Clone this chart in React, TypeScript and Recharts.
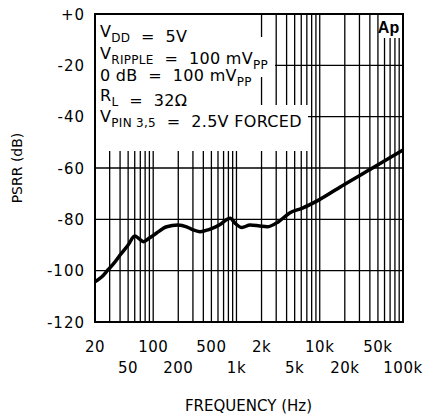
import { LineChart, Line, XAxis, YAxis, CartesianGrid, Customized } from "recharts";

// PSRR vs frequency
const freqHz = [20, 24, 28.6, 34, 40, 50, 60, 68, 76, 90, 110, 145, 198, 252, 300, 364, 430, 502, 650, 770, 840, 966, 1160, 1460, 1900, 2330, 3200, 4400, 6100, 9700, 20000, 42500, 100000];
const psrrDb = [-104.3, -102.5, -99.7, -97, -93.9, -90, -86.5, -87.6, -88.7, -87.3, -85.3, -82.9, -82.2, -82.9, -84.1, -84.8, -84.3, -83.6, -81.8, -80, -79.6, -81.6, -83.2, -82.2, -82.6, -82.9, -80.9, -77.4, -75.7, -72.5, -66.3, -60.1, -53];

const gridFreqs = [20, 30, 40, 50, 60, 70, 80, 90, 100, 200, 300, 400, 500, 600, 700, 800, 900, 1000, 2000, 3000, 4000, 5000, 6000, 7000, 8000, 9000, 10000, 20000, 30000, 40000, 50000, 60000, 70000, 80000, 90000, 100000];
const topRowTicks = [20, 100, 500, 2000, 10000, 50000];
const bottomRowTicks = [50, 200, 1000, 5000, 20000, 100000];
const dbTicks = [-120, -100, -80, -60, -40, -20, 0];

const data = freqHz.map((f, i) => ({ f, db: psrrDb[i] }));

const FONT = "'DejaVu Sans', sans-serif";
const fmtF = (v: number) => (v >= 1000 ? `${v / 1000}k` : `${v}`);
const SP2 = "\u00a0\u00a0";

const FreqTick = (props: any) => {
  const v = props.payload.value;
  let y = 0;
  if (topRowTicks.includes(v)) y = 352;
  else if (bottomRowTicks.includes(v)) y = 373;
  else return null;
  return (
    <text x={props.x} y={y} textAnchor="middle" fontFamily={FONT} fontSize={15} letterSpacing={0.5} fill="#000">
      {fmtF(v)}
    </text>
  );
};

const DbTick = (props: any) => {
  const v = props.payload.value;
  return (
    <text x={85} y={props.y + 5.5} textAnchor="end" fontFamily={FONT} fontSize={15} letterSpacing={1} fill="#000">
      {v === 0 ? "+0" : `${v}`}
    </text>
  );
};

const Sub = ({ children }: any) => (
  <>
    <tspan dy={5} fontSize={12}>{children}</tspan>
    <tspan dy={-5}></tspan>
  </>
);

const Overlay = () => (
  <g>
    {/* white backing behind the condition text */}
    <rect x={96} y={15} width={154} height={136} fill="#fff" />
    <rect x={250} y={37} width={25} height={40} fill="#fff" />
    <rect x={250} y={105} width={58} height={46} fill="#fff" />
    <rect x={379} y={15} width={23} height={23} fill="#fff" />
    <g fontFamily={FONT} fontSize={16} letterSpacing={0.3} fill="#000">
      <text x={100} y={37}>V<Sub>DD</Sub>{`${SP2}=${SP2}5V`}</text>
      <text x={100} y={59}>V<Sub>RIPPLE</Sub>{`${SP2}=${SP2}100 mV`}<Sub>PP</Sub></text>
      <text x={100} y={81}>{`0 dB${SP2}=${SP2}100 mV`}<Sub>PP</Sub></text>
      <text x={100} y={101}>R<Sub>L</Sub>{`${SP2}=${SP2}32Ω`}</text>
      <text x={100} y={122}>V<Sub>{"PIN\u00a03,5"}</Sub>{`${SP2}=${SP2}2.5V FORCED`}</text>
    </g>
    <text x={388.5} y={33} textAnchor="middle" fontFamily="'Liberation Sans', Arial, sans-serif" fontWeight="bold" fontSize={16} fill="#000">Ap</text>
    <rect x={95} y={14} width={308} height={308} fill="none" stroke="#000" strokeWidth={2} />
    <text x={248.5} y={411} textAnchor="middle" fontFamily={FONT} fontSize={15} fill="#000">FREQUENCY (Hz)</text>
    <text x={22} y={168} textAnchor="middle" transform="rotate(-90 22 168)" fontFamily={FONT} fontSize={14} fill="#000">PSRR (dB)</text>
  </g>
);

export default function App() {
  return (
    <div style={{ position: "absolute", left: 0, top: 0, background: "#fff" }}>
      <LineChart width={424} height={416} data={data} margin={{ top: 14, right: 21, bottom: 34, left: 35 }}>
        <CartesianGrid stroke="#000" strokeWidth={1.3} strokeOpacity={1} />
        <XAxis dataKey="f" type="number" scale="log" domain={[20, 100000]} ticks={gridFreqs} allowDataOverflow
          tick={<FreqTick />} tickLine={false} axisLine={false} height={60} interval={0} />
        <YAxis type="number" domain={[-120, 0]} ticks={dbTicks} tick={<DbTick />} tickLine={false} axisLine={false} width={60} interval={0} />
        <Customized component={Overlay} />
        <Line dataKey="db" type="monotone" stroke="#000" strokeWidth={3.5} dot={false} isAnimationActive={false} />
      </LineChart>
    </div>
  );
}
